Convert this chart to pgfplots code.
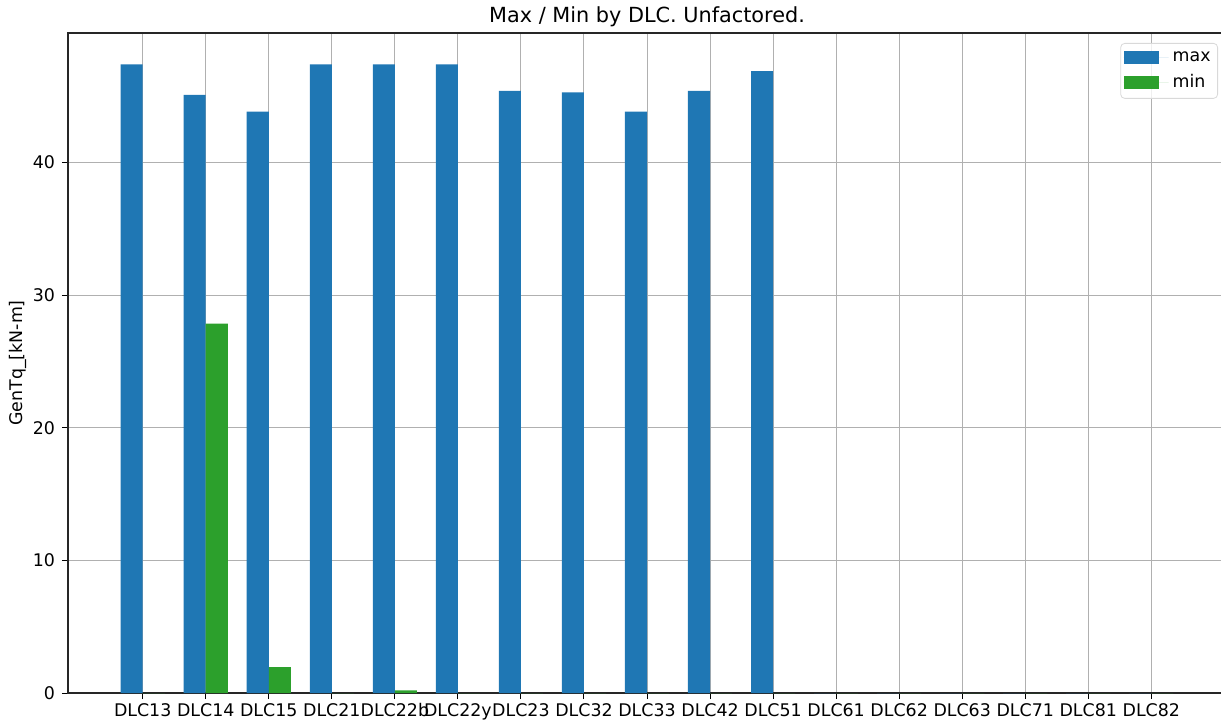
\documentclass[border=0pt]{standalone}
\usepackage{fontspec}
\setmainfont{DejaVu Sans}
\usepackage{pgfplots}
\pgfplotsset{compat=1.18}
\definecolor{cmax}{HTML}{1F77B4}
\definecolor{cmin}{HTML}{2CA02C}
\begin{document}
\begin{tikzpicture}
\begin{axis}[
  scale only axis, width=579pt, height=330pt,
  xmin=-1.185, xmax=17.185, ymin=0, ymax=49.77,
  xtick={0,...,16},
  xticklabels={DLC13,DLC14,DLC15,DLC21,DLC22b,DLC22y,DLC23,DLC32,DLC33,DLC42,DLC51,DLC61,DLC62,DLC63,DLC71,DLC81,DLC82},
  ytick={0,10,20,30,40},
  grid=major, major grid style={color=black!31, line width=0.5pt},
  tick align=outside, major tick length=3pt, tick pos=left,
  tick style={black, line width=0.5pt},
  axis line style={black!85, line width=0.6pt},
  /pgf/number format/assume math mode=true,
  ticklabel style={font=\fontsize{8.7}{10}\selectfont},
  xticklabel style={inner sep=1pt, yshift=-1pt},
  ylabel={GenTq\_[kN-m]},
  every axis y label/.style={font=\fontsize{8.7}{10}\selectfont, at={(axis description cs:0,0.5)}, xshift=-25pt, rotate=90, anchor=center},
  title={Max / Min by DLC. Unfactored.},
  every axis title/.style={font=\fontsize{10.4}{12}\selectfont, at={(axis description cs:0.5,1)}, anchor=center, yshift=8pt},
  legend style={at={(axis description cs:1,1)}, anchor=north east, xshift=-4pt, yshift=-5pt,
    draw=black!15, rounded corners=2pt, fill=white, fill opacity=0.8, text opacity=1,
    font=\fontsize{8.7}{10}\selectfont, inner xsep=1.5pt, inner ysep=2pt, row sep=1pt},
  legend cell align=left,
  legend image code/.code={\fill[#1, sharp corners, fill opacity=1] (0pt,-3.2pt) rectangle (17.5pt,3.2pt);
    \path (0pt,0pt) -- (22.5pt,0pt);},
]
\coordinate (O) at (rel axis cs:0,0);
\addplot[ybar, bar width=0.35, bar shift=-0.175, fill=cmax, draw=none] coordinates {
(0,47.4) (1,45.1) (2,43.85) (3,47.4) (4,47.4) (5,47.4) (6,45.4) (7,45.3) (8,43.85) (9,45.4) (10,46.9)
(11,0) (12,0) (13,0) (14,0) (15,0) (16,0)};
\addlegendentry{max}
\addplot[ybar, bar width=0.35, bar shift=0.175, fill=cmin, draw=none] coordinates {
(0,0) (1,27.85) (2,1.96) (3,0) (4,0.2) (5,0) (6,0) (7,0) (8,0) (9,0) (10,0)
(11,0) (12,0) (13,0) (14,0) (15,0) (16,0)};
\addlegendentry{min}
\end{axis}
\pgfresetboundingbox
\path ([shift={(-34pt,-16pt)}]O) rectangle ++(610.5pt,362.5pt);
\end{tikzpicture}
\end{document}
